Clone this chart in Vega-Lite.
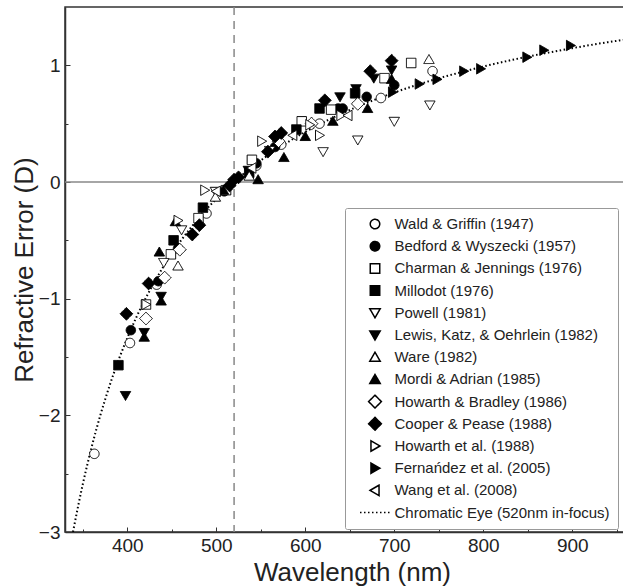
{
  "$schema": "https://vega.github.io/schema/vega-lite/v6.json",
  "width": 574,
  "height": 525,
  "autosize": {"type": "none"},
  "padding": {"left": 65, "top": 7, "right": 0, "bottom": 56},
  "config": {
    "font": "Liberation Sans",
    "view": {"stroke": "#333", "strokeWidth": 1.5},
    "axis": {"labelFont": "Liberation Sans", "titleFont": "Liberation Sans", "grid": false},
    "legend": {
      "orient": "none",
      "legendX": 280,
      "legendY": 201,
      "labelFont": "Liberation Sans",
      "labelFontSize": 15,
      "labelColor": "#222",
      "labelLimit": 400,
      "strokeColor": "#999",
      "fillColor": "white",
      "padding": 8,
      "cornerRadius": 2,
      "clipHeight": 16,
      "symbolSize": 90,
      "symbolOffset": 14.5,
      "labelOffset": 12,
      "rowPadding": 6.2
    }
  },
  "datasets": {
    "hline": [{"D": 0}],
    "vline": [{"wl": 520}],
    "curve": [
      {"wl": 339, "D": -3.0}, {"wl": 345, "D": -2.769}, {"wl": 350, "D": -2.59}, {"wl": 355, "D": -2.425},
      {"wl": 360, "D": -2.271}, {"wl": 370, "D": -1.992}, {"wl": 380, "D": -1.748}, {"wl": 390, "D": -1.53},
      {"wl": 400, "D": -1.337}, {"wl": 410, "D": -1.163}, {"wl": 420, "D": -1.006}, {"wl": 430, "D": -0.863},
      {"wl": 440, "D": -0.733}, {"wl": 450, "D": -0.615}, {"wl": 460, "D": -0.505}, {"wl": 470, "D": -0.405},
      {"wl": 480, "D": -0.312}, {"wl": 490, "D": -0.225}, {"wl": 500, "D": -0.145}, {"wl": 510, "D": -0.07},
      {"wl": 520, "D": 0.0}, {"wl": 530, "D": 0.066}, {"wl": 540, "D": 0.127}, {"wl": 550, "D": 0.185},
      {"wl": 560, "D": 0.24}, {"wl": 580, "D": 0.34}, {"wl": 600, "D": 0.429}, {"wl": 620, "D": 0.51},
      {"wl": 640, "D": 0.583}, {"wl": 660, "D": 0.65}, {"wl": 680, "D": 0.711}, {"wl": 700, "D": 0.767},
      {"wl": 725, "D": 0.831}, {"wl": 750, "D": 0.889}, {"wl": 775, "D": 0.941}, {"wl": 800, "D": 0.99},
      {"wl": 825, "D": 1.034}, {"wl": 850, "D": 1.075}, {"wl": 875, "D": 1.112}, {"wl": 900, "D": 1.147},
      {"wl": 925, "D": 1.18}, {"wl": 950, "D": 1.21}, {"wl": 975, "D": 1.238}
    ],
    "points": [
      {"study": "Wald & Griffin (1947)", "wl": 363, "D": -2.33},
      {"study": "Wald & Griffin (1947)", "wl": 403, "D": -1.38},
      {"study": "Wald & Griffin (1947)", "wl": 433, "D": -0.88},
      {"study": "Wald & Griffin (1947)", "wl": 489, "D": -0.27},
      {"study": "Wald & Griffin (1947)", "wl": 545, "D": 0.14},
      {"study": "Wald & Griffin (1947)", "wl": 573, "D": 0.32},
      {"study": "Wald & Griffin (1947)", "wl": 616, "D": 0.5},
      {"study": "Wald & Griffin (1947)", "wl": 685, "D": 0.72},
      {"study": "Wald & Griffin (1947)", "wl": 743, "D": 0.95},
      {"study": "Bedford & Wyszecki (1957)", "wl": 404, "D": -1.27},
      {"study": "Bedford & Wyszecki (1957)", "wl": 435, "D": -0.85},
      {"study": "Bedford & Wyszecki (1957)", "wl": 457, "D": -0.57},
      {"study": "Bedford & Wyszecki (1957)", "wl": 509, "D": -0.08},
      {"study": "Bedford & Wyszecki (1957)", "wl": 545, "D": 0.16},
      {"study": "Bedford & Wyszecki (1957)", "wl": 566, "D": 0.3},
      {"study": "Bedford & Wyszecki (1957)", "wl": 637, "D": 0.63},
      {"study": "Bedford & Wyszecki (1957)", "wl": 642, "D": 0.63},
      {"study": "Bedford & Wyszecki (1957)", "wl": 669, "D": 0.73},
      {"study": "Bedford & Wyszecki (1957)", "wl": 700, "D": 0.83},
      {"study": "Charman & Jennings (1976)", "wl": 421, "D": -1.05},
      {"study": "Charman & Jennings (1976)", "wl": 449, "D": -0.62},
      {"study": "Charman & Jennings (1976)", "wl": 480, "D": -0.31},
      {"study": "Charman & Jennings (1976)", "wl": 511, "D": -0.07},
      {"study": "Charman & Jennings (1976)", "wl": 540, "D": 0.19},
      {"study": "Charman & Jennings (1976)", "wl": 596, "D": 0.52},
      {"study": "Charman & Jennings (1976)", "wl": 629, "D": 0.62},
      {"study": "Charman & Jennings (1976)", "wl": 689, "D": 0.89},
      {"study": "Charman & Jennings (1976)", "wl": 719, "D": 1.02},
      {"study": "Millodot (1976)", "wl": 390, "D": -1.57},
      {"study": "Millodot (1976)", "wl": 452, "D": -0.5},
      {"study": "Millodot (1976)", "wl": 485, "D": -0.22},
      {"study": "Millodot (1976)", "wl": 537, "D": 0.08},
      {"study": "Millodot (1976)", "wl": 590, "D": 0.45},
      {"study": "Millodot (1976)", "wl": 616, "D": 0.63},
      {"study": "Millodot (1976)", "wl": 656, "D": 0.76},
      {"study": "Powell (1981)", "wl": 441, "D": -0.69},
      {"study": "Powell (1981)", "wl": 461, "D": -0.41},
      {"study": "Powell (1981)", "wl": 499, "D": -0.08},
      {"study": "Powell (1981)", "wl": 560, "D": 0.27},
      {"study": "Powell (1981)", "wl": 620, "D": 0.26},
      {"study": "Powell (1981)", "wl": 659, "D": 0.36},
      {"study": "Powell (1981)", "wl": 700, "D": 0.52},
      {"study": "Powell (1981)", "wl": 740, "D": 0.66},
      {"study": "Lewis, Katz, & Oehrlein (1982)", "wl": 398, "D": -1.83},
      {"study": "Lewis, Katz, & Oehrlein (1982)", "wl": 419, "D": -1.29},
      {"study": "Lewis, Katz, & Oehrlein (1982)", "wl": 438, "D": -0.98},
      {"study": "Lewis, Katz, & Oehrlein (1982)", "wl": 536, "D": 0.1},
      {"study": "Lewis, Katz, & Oehrlein (1982)", "wl": 639, "D": 0.73},
      {"study": "Lewis, Katz, & Oehrlein (1982)", "wl": 657, "D": 0.8},
      {"study": "Lewis, Katz, & Oehrlein (1982)", "wl": 677, "D": 0.89},
      {"study": "Lewis, Katz, & Oehrlein (1982)", "wl": 697, "D": 0.96},
      {"study": "Ware (1982)", "wl": 457, "D": -0.72},
      {"study": "Ware (1982)", "wl": 499, "D": -0.13},
      {"study": "Ware (1982)", "wl": 537, "D": 0.05},
      {"study": "Ware (1982)", "wl": 739, "D": 1.05},
      {"study": "Mordi & Adrian (1985)", "wl": 419, "D": -1.33},
      {"study": "Mordi & Adrian (1985)", "wl": 436, "D": -0.6},
      {"study": "Mordi & Adrian (1985)", "wl": 438, "D": -1.02},
      {"study": "Mordi & Adrian (1985)", "wl": 454, "D": -0.34},
      {"study": "Mordi & Adrian (1985)", "wl": 508, "D": -0.07},
      {"study": "Mordi & Adrian (1985)", "wl": 547, "D": 0.02},
      {"study": "Mordi & Adrian (1985)", "wl": 576, "D": 0.21},
      {"study": "Mordi & Adrian (1985)", "wl": 600, "D": 0.39},
      {"study": "Mordi & Adrian (1985)", "wl": 631, "D": 0.52},
      {"study": "Mordi & Adrian (1985)", "wl": 670, "D": 0.63},
      {"study": "Mordi & Adrian (1985)", "wl": 697, "D": 0.88},
      {"study": "Howarth & Bradley (1986)", "wl": 421, "D": -1.17},
      {"study": "Howarth & Bradley (1986)", "wl": 442, "D": -0.82},
      {"study": "Howarth & Bradley (1986)", "wl": 459, "D": -0.58},
      {"study": "Howarth & Bradley (1986)", "wl": 570, "D": 0.35},
      {"study": "Howarth & Bradley (1986)", "wl": 607, "D": 0.5},
      {"study": "Howarth & Bradley (1986)", "wl": 659, "D": 0.67},
      {"study": "Cooper & Pease (1988)", "wl": 399, "D": -1.13},
      {"study": "Cooper & Pease (1988)", "wl": 424, "D": -0.87},
      {"study": "Cooper & Pease (1988)", "wl": 473, "D": -0.45},
      {"study": "Cooper & Pease (1988)", "wl": 481, "D": -0.37},
      {"study": "Cooper & Pease (1988)", "wl": 515, "D": -0.03},
      {"study": "Cooper & Pease (1988)", "wl": 520, "D": 0.02},
      {"study": "Cooper & Pease (1988)", "wl": 525, "D": 0.04},
      {"study": "Cooper & Pease (1988)", "wl": 558, "D": 0.26},
      {"study": "Cooper & Pease (1988)", "wl": 566, "D": 0.39},
      {"study": "Cooper & Pease (1988)", "wl": 573, "D": 0.42},
      {"study": "Cooper & Pease (1988)", "wl": 622, "D": 0.7},
      {"study": "Cooper & Pease (1988)", "wl": 673, "D": 0.95},
      {"study": "Cooper & Pease (1988)", "wl": 697, "D": 1.04},
      {"study": "Howarth et al. (1988)", "wl": 421, "D": -1.05},
      {"study": "Howarth et al. (1988)", "wl": 457, "D": -0.33},
      {"study": "Howarth et al. (1988)", "wl": 487, "D": -0.07},
      {"study": "Howarth et al. (1988)", "wl": 551, "D": 0.35},
      {"study": "Howarth et al. (1988)", "wl": 605, "D": 0.49},
      {"study": "Howarth et al. (1988)", "wl": 616, "D": 0.4},
      {"study": "Howarth et al. (1988)", "wl": 640, "D": 0.57},
      {"study": "Fernańdez et al. (2005)", "wl": 698, "D": 0.77},
      {"study": "Fernańdez et al. (2005)", "wl": 728, "D": 0.84},
      {"study": "Fernańdez et al. (2005)", "wl": 748, "D": 0.88},
      {"study": "Fernańdez et al. (2005)", "wl": 778, "D": 0.95},
      {"study": "Fernańdez et al. (2005)", "wl": 797, "D": 0.97},
      {"study": "Fernańdez et al. (2005)", "wl": 849, "D": 1.07},
      {"study": "Fernańdez et al. (2005)", "wl": 868, "D": 1.13},
      {"study": "Fernańdez et al. (2005)", "wl": 898, "D": 1.17},
      {"study": "Wang et al. (2008)", "wl": 500, "D": -0.08},
      {"study": "Wang et al. (2008)", "wl": 540, "D": 0.12},
      {"study": "Wang et al. (2008)", "wl": 586, "D": 0.4},
      {"study": "Wang et al. (2008)", "wl": 648, "D": 0.57}
    ]
  },
  "layer": [
    {
      "data": {"name": "hline"},
      "mark": {"type": "rule", "color": "#888", "strokeWidth": 1.5},
      "encoding": {
        "y": {"field": "D", "type": "quantitative", "scale": {"domain": [-3, 1.5], "nice": false, "zero": false}}
      }
    },
    {
      "data": {"name": "vline"},
      "mark": {"type": "rule", "color": "#888", "strokeWidth": 1.5, "strokeDash": [8, 6]},
      "encoding": {
        "x": {"field": "wl", "type": "quantitative", "scale": {"domain": [330, 975], "nice": false, "zero": false}}
      }
    },
    {
      "data": {"name": "curve"},
      "mark": {"type": "line", "color": "black", "strokeWidth": 2, "strokeDash": [1.5, 2.5], "interpolate": "monotone", "clip": true},
      "encoding": {
        "x": {"field": "wl", "type": "quantitative", "scale": {"domain": [330, 975], "nice": false, "zero": false}},
        "y": {"field": "D", "type": "quantitative", "scale": {"domain": [-3, 1.5], "nice": false, "zero": false}}
      }
    },
    {
      "data": {"name": "points"},
      "mark": {"type": "point", "filled": true, "opacity": 1, "size": 90, "strokeWidth": 1},
      "encoding": {
        "x": {
          "field": "wl", "type": "quantitative",
          "scale": {"domain": [330, 975], "nice": false, "zero": false},
          "axis": {
            "title": "Wavelength (nm)",
            "values": [350, 400, 450, 500, 550, 600, 650, 700, 750, 800, 850, 900, 950],
            "format": "d",
            "labelExpr": "datum.value % 100 === 0 ? datum.label : ''",
            "tickSize": {"condition": {"test": "datum.value % 100 === 0", "value": -5}, "value": -3},
            "labelPadding": 9,
            "labelFontSize": 19,
            "labelColor": "#222",
            "titleFontSize": 26,
            "titleFontWeight": "normal",
            "titleColor": "#222",
            "titlePadding": 2,
            "domainColor": "#333",
            "domainWidth": 1.5,
            "tickColor": "#333",
            "labelFlush": false,
            "labelOverlap": false
          }
        },
        "y": {
          "field": "D", "type": "quantitative",
          "scale": {"domain": [-3, 1.5], "nice": false, "zero": false},
          "axis": {
            "title": "Refractive Error (D)",
            "values": [-3, -2.75, -2.5, -2.25, -2, -1.75, -1.5, -1.25, -1, -0.75, -0.5, -0.25, 0, 0.25, 0.5, 0.75, 1, 1.25],
            "format": "~g",
            "labelExpr": "datum.value % 1 === 0 ? datum.label : ''",
            "tickSize": {"condition": {"test": "datum.value % 1 === 0", "value": -5}, "value": -3},
            "labelPadding": 10,
            "labelFontSize": 19,
            "labelColor": "#222",
            "titleFontSize": 26,
            "titleFontWeight": "normal",
            "titleColor": "#222",
            "titlePadding": 1,
            "domainColor": "#333",
            "domainWidth": 1.5,
            "tickColor": "#333",
            "labelFlush": false,
            "labelOverlap": false
          }
        },
        "shape": {
          "field": "study", "type": "nominal",
          "scale": {
            "domain": ["Wald & Griffin (1947)", "Bedford & Wyszecki (1957)", "Charman & Jennings (1976)", "Millodot (1976)", "Powell (1981)", "Lewis, Katz, & Oehrlein (1982)", "Ware (1982)", "Mordi & Adrian (1985)", "Howarth & Bradley (1986)", "Cooper & Pease (1988)", "Howarth et al. (1988)", "Fernańdez et al. (2005)", "Wang et al. (2008)", "Chromatic Eye (520nm in-focus)"],
            "range": ["circle", "circle", "square", "square", "M0,1.05L1.1,-0.85L-1.1,-0.85Z", "M0,1.05L1.1,-0.85L-1.1,-0.85Z", "M0,-1.05L1.1,0.85L-1.1,0.85Z", "M0,-1.05L1.1,0.85L-1.1,0.85Z", "M0,-1.35L1.35,0L0,1.35L-1.35,0Z", "M0,-1.35L1.35,0L0,1.35L-1.35,0Z", "M1.05,0L-0.85,1.1L-0.85,-1.1Z", "M1.05,0L-0.85,1.1L-0.85,-1.1Z", "M-1.05,0L0.85,1.1L0.85,-1.1Z", "M-3.16,0H3.16"]
          },
          "legend": {"title": null}
        },
        "fill": {
          "field": "study", "type": "nominal",
          "scale": {
            "domain": ["Wald & Griffin (1947)", "Bedford & Wyszecki (1957)", "Charman & Jennings (1976)", "Millodot (1976)", "Powell (1981)", "Lewis, Katz, & Oehrlein (1982)", "Ware (1982)", "Mordi & Adrian (1985)", "Howarth & Bradley (1986)", "Cooper & Pease (1988)", "Howarth et al. (1988)", "Fernańdez et al. (2005)", "Wang et al. (2008)", "Chromatic Eye (520nm in-focus)"],
            "range": ["white", "black", "white", "black", "white", "black", "white", "black", "white", "black", "white", "black", "white", "white"]
          },
          "legend": {"title": null}
        },
        "stroke": {
          "field": "study", "type": "nominal",
          "scale": {
            "domain": ["Wald & Griffin (1947)", "Bedford & Wyszecki (1957)", "Charman & Jennings (1976)", "Millodot (1976)", "Powell (1981)", "Lewis, Katz, & Oehrlein (1982)", "Ware (1982)", "Mordi & Adrian (1985)", "Howarth & Bradley (1986)", "Cooper & Pease (1988)", "Howarth et al. (1988)", "Fernańdez et al. (2005)", "Wang et al. (2008)", "Chromatic Eye (520nm in-focus)"],
            "range": ["black", "black", "black", "black", "black", "black", "black", "black", "black", "black", "black", "black", "black", "black"]
          },
          "legend": {"title": null}
        },
        "strokeDash": {
          "field": "study", "type": "nominal",
          "scale": {
            "domain": ["Wald & Griffin (1947)", "Bedford & Wyszecki (1957)", "Charman & Jennings (1976)", "Millodot (1976)", "Powell (1981)", "Lewis, Katz, & Oehrlein (1982)", "Ware (1982)", "Mordi & Adrian (1985)", "Howarth & Bradley (1986)", "Cooper & Pease (1988)", "Howarth et al. (1988)", "Fernańdez et al. (2005)", "Wang et al. (2008)", "Chromatic Eye (520nm in-focus)"],
            "range": [[1, 0], [1, 0], [1, 0], [1, 0], [1, 0], [1, 0], [1, 0], [1, 0], [1, 0], [1, 0], [1, 0], [1, 0], [1, 0], [1.5, 2.5]]
          },
          "legend": {"title": null}
        }
      }
    }
  ]
}
